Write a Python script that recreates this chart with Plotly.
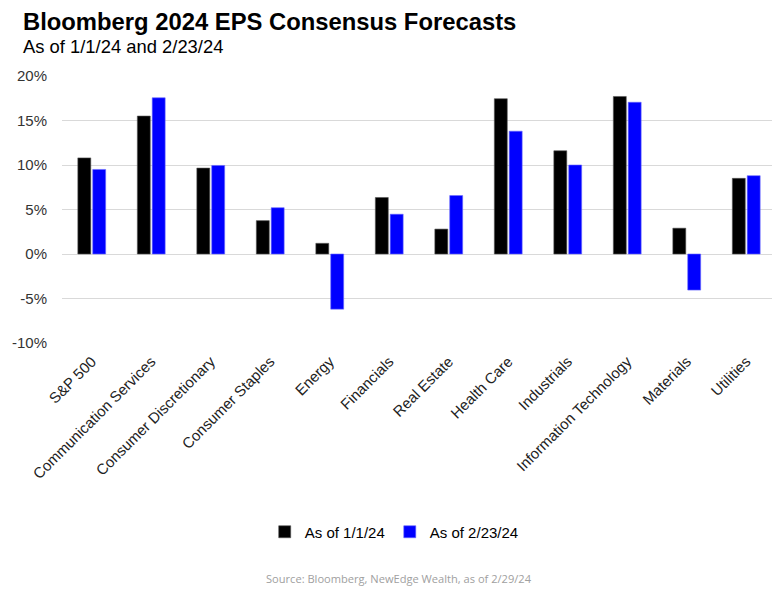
import plotly.graph_objects as go

categories = ["S&P 500", "Communication Services", "Consumer Discretionary", "Consumer Staples",
              "Energy", "Financials", "Real Estate", "Health Care", "Industrials",
              "Information Technology", "Materials", "Utilities"]
eps_jan = [10.8, 15.5, 9.65, 3.75, 1.2, 6.35, 2.8, 17.45, 11.6, 17.7, 2.9, 8.5]
eps_feb = [9.5, 17.55, 9.95, 5.2, -6.2, 4.47, 6.57, 13.8, 10.0, 17.05, -4.05, 8.8]
series_names = ["As of 1/1/24", "As of 2/23/24"]
y_tickvals = [-10, -5, 0, 5, 10, 15, 20]
y_ticktext = ["-10%", "-5%", "0%", "5%", "10%", "15%", "20%"]

# page has an 8px body margin; figure is sized so it fits the 780x591 window
OFF = 8
W, H = 780 - OFF, 591 - OFF
ML, MR, MT, MB = 56 - OFF, 4, 76 - OFF, 248
ph = H - MT - MB
pw = W - ML - MR

def py(pix):
    # pix is a page pixel row
    return (H - MB - (pix - OFF)) / ph

def px(pix):
    return ((pix - OFF) - ML) / pw

fig = go.Figure()
fig.add_trace(go.Bar(x=categories, y=eps_jan, name=series_names[0],
                     marker=dict(color="#000000", line=dict(color="#555555", width=0.6))))
fig.add_trace(go.Bar(x=categories, y=eps_feb, name=series_names[1],
                     marker=dict(color="#0000FF", line=dict(color="#6666ff", width=0.6))))

fig.update_layout(
    width=W, height=H,
    margin=dict(l=ML, r=MR, t=MT, b=MB, pad=0),
    paper_bgcolor="white", plot_bgcolor="white",
    barmode="group", bargap=0.5, bargroupgap=0.13,
    font=dict(family="Liberation Sans, Arial, sans-serif", color="#222222"),
    showlegend=True,
    legend=dict(orientation="h", x=px(391), xanchor="center", y=py(532), yanchor="middle",
                font=dict(size=15, color="#000000"), itemwidth=30, traceorder="normal"),
    annotations=[
        dict(text="<b>Bloomberg 2024 EPS Consensus Forecasts</b>", xref="paper", yref="paper",
             x=px(15), y=py(22), xanchor="left", yanchor="middle", showarrow=False,
             font=dict(size=23.8, color="#000000")),
        dict(text="As of 1/1/24 and 2/23/24", xref="paper", yref="paper",
             x=px(15), y=py(47), xanchor="left", yanchor="middle", showarrow=False,
             font=dict(size=18.4, color="#000000")),
        dict(text="Source: Bloomberg, NewEdge Wealth, as of 2/29/24", xref="paper", yref="paper",
             x=px(396), y=py(578), xanchor="center", yanchor="middle", showarrow=False,
             font=dict(family="Open Sans, sans-serif", size=11.1, color="#a0a0a0")),
    ],
)
fig.update_xaxes(tickangle=-45, tickfont=dict(size=15, color="#222222"), showgrid=False,
                 showline=False, ticks="", ticklabelstandoff=6)
fig.update_yaxes(range=[-10, 20], tickvals=y_tickvals, ticktext=y_ticktext,
                 tickfont=dict(size=15, color="#333333"), showgrid=True, gridcolor="#d9d9d9",
                 gridwidth=1, zeroline=True, zerolinecolor="#d9d9d9", zerolinewidth=1,
                 showline=False, ticks="", ticklabelstandoff=14)

fig.write_html("out.html")
